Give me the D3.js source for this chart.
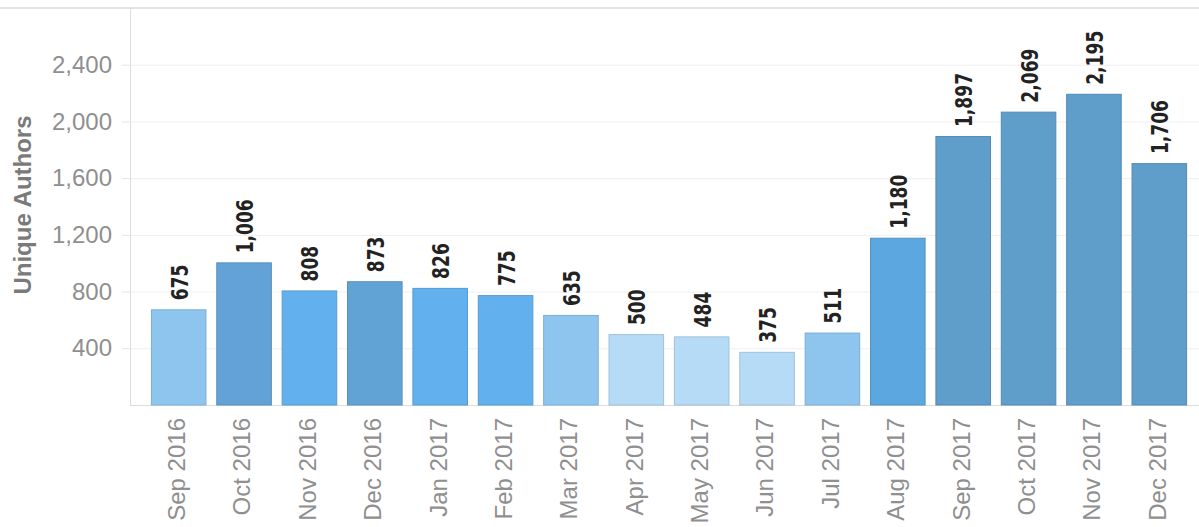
<!DOCTYPE html>
<html>
<head>
<meta charset="utf-8">
<script src="https://cdn.jsdelivr.net/npm/d3@7"></script>
<style>
  body { margin: 0; background: #fff; }
  svg { display: block; }
</style>
</head>
<body>
<div class="canvas"></div>
<script>
// data
const months = ['Sep 2016', 'Oct 2016', 'Nov 2016', 'Dec 2016', 'Jan 2017', 'Feb 2017',
  'Mar 2017', 'Apr 2017', 'May 2017', 'Jun 2017', 'Jul 2017', 'Aug 2017',
  'Sep 2017', 'Oct 2017', 'Nov 2017', 'Dec 2017'];
const authors = [675, 1006, 808, 873, 826, 775, 635, 500, 484, 375, 511, 1180, 1897, 2069, 2195, 1706];
const barColors = ['#8ec5ef', '#62a2d6', '#62b0ed', '#62a3d6', '#62b0ed', '#62b0ed',
  '#8ec5ef', '#b5dbf7', '#b5dbf7', '#b5dbf7', '#8ec5ef', '#5ca7e0',
  '#5f9dcb', '#5f9dcb', '#5f9dcb', '#5f9dcb'];
const yTicks = [400, 800, 1200, 1600, 2000, 2400];

const width = 1199, height = 527;
const plotLeft = 130, plotRight = 1199, plotTop = 8, plotBottom = 405;

const svg = d3.select('.canvas')
  .append('svg')
  .attr('width', width)
  .attr('height', height);

const data = months.map((m, i) => ({month: m, value: authors[i], color: barColors[i]}));

const x = d3.scaleBand()
  .domain(months)
  .range([146, 1192])
  .paddingInner(0.15)
  .paddingOuter(0.075);

const y = d3.scaleLinear()
  .domain([0, 2800])
  .range([plotBottom, plotTop]);

// top frame line
svg.append('line')
  .attr('x1', 0).attr('x2', width)
  .attr('y1', plotTop).attr('y2', plotTop)
  .attr('stroke', '#e2e2e2')
  .attr('stroke-width', 2);

// grid lines
svg.append('g')
  .selectAll('line')
  .data(yTicks)
  .enter().append('line')
  .attr('x1', plotLeft).attr('x2', plotRight)
  .attr('y1', d => y(d) + 0.5).attr('y2', d => y(d) + 0.5)
  .attr('stroke', '#efefef');

// y axis
const yAxisGroup = svg.append('g')
  .attr('transform', `translate(${plotLeft},0)`);
yAxisGroup.call(d3.axisLeft(y)
  .tickValues(yTicks)
  .tickSize(8)
  .tickPadding(10)
  .tickFormat(d3.format(',')));
yAxisGroup.select('.domain').attr('stroke', '#dddddd').attr('d', `M0.5,${plotTop}V${plotBottom}`);
yAxisGroup.selectAll('.tick line').attr('stroke', '#e4e4e4');
yAxisGroup.selectAll('.tick text')
  .attr('fill', '#8f8f8f')
  .style('font-family', '"Liberation Sans", Arial, sans-serif')
  .style('font-size', '24px');

// baseline
svg.append('line')
  .attr('x1', plotLeft).attr('x2', plotRight)
  .attr('y1', plotBottom + 0.5).attr('y2', plotBottom + 0.5)
  .attr('stroke', '#dcdcdc');

// bars
svg.append('g')
  .selectAll('rect')
  .data(data)
  .enter().append('rect')
  .attr('x', d => x(d.month) + 0.5)
  .attr('y', d => y(d.value) + 0.5)
  .attr('width', x.bandwidth() - 1)
  .attr('height', d => plotBottom - y(d.value) - 0.5)
  .attr('fill', d => d.color)
  .attr('stroke', d => d3.color(d.color).darker(0.35))
  .attr('stroke-width', 1);

// value labels (narrow, tall look of the original)
svg.append('g')
  .selectAll('text')
  .data(data)
  .enter().append('text')
  .attr('transform', d => `translate(${x(d.month) + x.bandwidth() / 2 + 9},${y(d.value) - 9}) rotate(-90) scale(1,1.25)`)
  .attr('text-anchor', 'start')
  .attr('fill', '#222')
  .style('font-family', '"DejaVu Sans Condensed", sans-serif')
  .style('font-weight', 'bold')
  .style('font-size', '19px')
  .text(d => d3.format(',')(d.value));

// x labels
const xAxisGroup = svg.append('g')
  .attr('transform', `translate(0,${plotBottom})`);
xAxisGroup.call(d3.axisBottom(x).tickSize(0).tickPadding(0));
xAxisGroup.select('.domain').remove();
xAxisGroup.selectAll('.tick text')
  .attr('transform', 'rotate(-90)')
  .attr('text-anchor', 'end')
  .attr('x', -13)
  .attr('y', -2)
  .attr('dy', '0.35em')
  .attr('fill', '#8f8f8f')
  .style('font-family', '"Liberation Sans", Arial, sans-serif')
  .style('font-size', '24px');

// y axis title
svg.append('text')
  .attr('transform', `translate(31,205) rotate(-90)`)
  .attr('text-anchor', 'middle')
  .attr('fill', '#7a7a7a')
  .style('font-family', '"Liberation Sans", Arial, sans-serif')
  .style('font-weight', 'bold')
  .style('font-size', '24px')
  .text('Unique Authors');
</script>
</body>
</html>
